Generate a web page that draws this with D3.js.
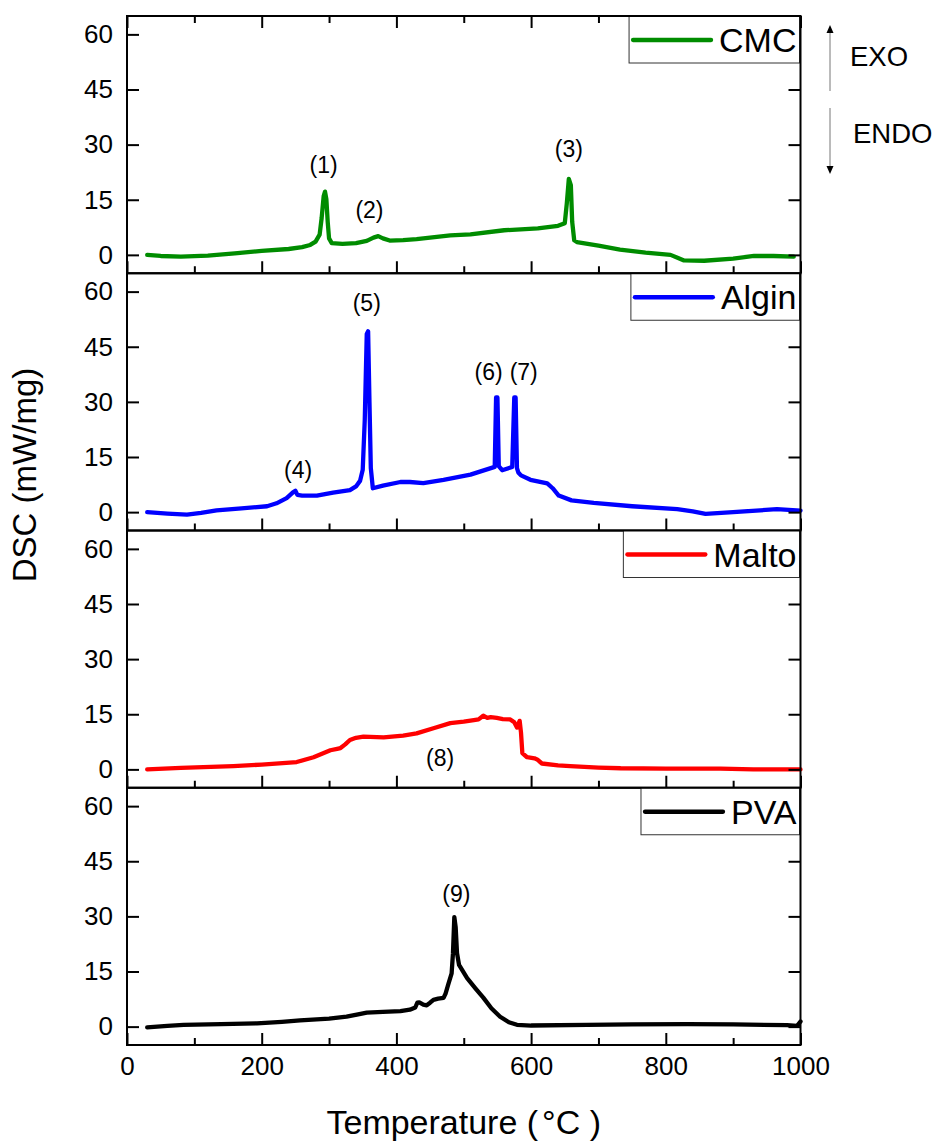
<!DOCTYPE html>
<html>
<head>
<meta charset="utf-8">
<script src="https://cdn.jsdelivr.net/npm/d3@7"></script>
<style>
  html, body { margin: 0; padding: 0; background: #fff; }
  svg { display: block; font-family: "Liberation Sans", Arial, sans-serif; }
</style>
</head>
<body>
<svg id="chart" width="934" height="1142"></svg>
<script>
// DSC curves, temperature (°C) vs heat flow (mW/mg)
const seriesNames = ["CMC", "Algin", "Malto", "PVA"];
const seriesColors = ["#008c00", "#0000ff", "#ff0000", "#000000"];

const cmc = [
  [30,0],[50,-0.3],[80,-0.5],[120,-0.2],[160,0.4],[200,1.1],[240,1.6],[260,2.1],[272,2.7],
  [280,3.6],[286,5.5],[289,10],[292,16],[294,17.2],[296,15.2],[298,9],[300,4.5],[304,3.2],
  [320,3.0],[340,3.2],[356,3.8],[366,4.7],[373,5.1],[380,4.5],[390,3.9],[410,4.0],[430,4.3],
  [460,4.9],[480,5.3],[510,5.6],[560,6.7],[610,7.2],[640,7.9],[650,8.6],[653,14],[656,20.7],
  [659,19],[661,9],[664,4.0],[668,3.5],[700,2.5],[732,1.4],[770,0.6],[807,0],[827,-1.5],
  [857,-1.6],[900,-1.0],[931,-0.3],[960,-0.3],[990,-0.5]
];

const algin = [
  [30,0],[60,-0.4],[89,-0.7],[110,-0.2],[133,0.5],[170,1.0],[208,1.6],[222,2.4],[237,3.8],
  [246,5.3],[250,5.8],[253,4.7],[260,4.5],[282,4.5],[306,5.3],[331,6.0],[340,7],[346,8.5],
  [350,11.5],[353,25],[356,48.5],[358,49.2],[360,30],[362,12],[365,6.5],[380,7.2],[406,8.2],
  [420,8.2],[440,7.9],[470,8.8],[510,10.2],[546,12.3],[548,31.2],[550,31.2],[552,12.5],
  [557,11.4],[572,12.3],[575,31.2],[577,31.2],[579,12],[581,10.8],[585,10.0],[599,8.8],
  [624,7.8],[632,6.5],[641,4.5],[660,3.2],[693,2.5],[750,1.6],[817,0.8],[840,0.2],[859,-0.5],
  [900,0.0],[965,0.8],[1000,0.4]
];

const malto = [
  [30,0],[80,0.4],[158,0.9],[200,1.3],[252,2.0],[277,3.3],[302,5.2],[312,5.6],[317,5.8],
  [324,6.8],[331,8.0],[340,8.6],[351,8.9],[381,8.7],[410,9.2],[430,9.8],[455,11.2],[480,12.6],
  [500,13.0],[515,13.4],[522,13.6],[529,14.6],[535,14.0],[540,14.2],[549,14.0],[558,13.7],
  [569,13.6],[575,12.8],[579,11.4],[583,13.2],[585,10],[587,4.4],[594,3.3],[605,3.0],
  [609,2.7],[616,1.6],[640,1.1],[658,0.9],[700,0.5],[733,0.3],[800,0.2],[881,0.2],[930,0],
  [1000,0]
];

const pva = [
  [30,-0.2],[60,0.2],[84,0.5],[140,0.7],[193,0.9],[230,1.3],[257,1.7],[300,2.2],[326,2.7],
  [345,3.4],[356,3.8],[380,4.0],[406,4.2],[420,4.6],[428,5.2],[431,6.5],[434,6.6],[440,6.0],
  [445,5.8],[450,6.5],[455,7.3],[462,7.6],[470,7.8],[473,9],[477,11.5],[482,14.5],[484,20],
  [486,29.8],[488,27],[490,20],[493,16.8],[505,13.2],[517,10.5],[529,7.9],[541,5.0],
  [554,2.7],[567,1.2],[579,0.5],[600,0.3],[683,0.5],[750,0.6],[832,0.7],[900,0.6],[980,0.4],
  [995,0.2],[1000,1.4]
];

const seriesData = [cmc, algin, malto, pva];

// Peak labels: [panel index, temperature, DSC value at text baseline, text]
const peakLabels = [
  [0, 292, 22.3, "(1)"],
  [0, 360, 10.0, "(2)"],
  [0, 656, 26.6, "(3)"],
  [1, 254, 9.4, "(4)"],
  [1, 356, 54.7, "(5)"],
  [1, 537, 36.0, "(6)"],
  [1, 589, 36.0, "(7)"],
  [2, 465, 1.0, "(8)"],
  [3, 489, 34.0, "(9)"]
];

const yTicks = [0, 15, 30, 45, 60];
const xMajorTicks = [0, 200, 400, 600, 800, 1000];
const xMinorTicks = [100, 300, 500, 700, 900];

const xTitleMain = "Temperature (";
const xTitleUnit = "°C )";
const yTitle = "DSC (mW/mg)";

// ---- layout ----
const plotLeft = 127, plotRight = 800.5;
const plotTop = 16, panelH = 257.25;
const svg = d3.select("#chart");

const x = d3.scaleLinear().domain([0, 1000]).range([plotLeft, plotRight]);

const line = (y) => d3.line()
  .x(d => x(d[0]))
  .y(d => y(d[1]))
  .curve(d3.curveLinear);

const styleAxis = sel => {
  sel.select(".domain").remove();
  sel.selectAll(".tick line").attr("stroke", "#000").attr("stroke-width", 2);
  sel.selectAll(".tick text")
    .attr("fill", "#000")
    .style("font-size", "26px")
    .style("font-family", "'Liberation Sans', Arial, sans-serif");
};

seriesData.forEach((data, i) => {
  const top = plotTop + i * panelH;
  const bottom = top + panelH;
  const y = d3.scaleLinear().domain([-5, 65]).range([bottom, top]);
  const g = svg.append("g").attr("class", "panel");

  // curve
  g.append("path")
    .datum(data)
    .attr("d", line(y))
    .attr("fill", "none")
    .attr("stroke", seriesColors[i])
    .attr("stroke-width", 4.3)
    .attr("stroke-linejoin", "round")
    .attr("stroke-linecap", "round");

  // axes with inward ticks
  g.append("g")
    .attr("transform", `translate(${plotLeft},0)`)
    .call(d3.axisLeft(y).tickValues(yTicks).tickSize(-12).tickPadding(14).tickFormat(d3.format("d")))
    .call(styleAxis);

  g.append("g")
    .attr("transform", `translate(${plotRight},0)`)
    .call(d3.axisRight(y).tickValues(yTicks).tickSize(-12).tickFormat(""))
    .call(styleAxis);

  const bottomAxis = d3.axisBottom(x).tickValues(xMajorTicks).tickSize(-12).tickPadding(12)
    .tickFormat(i < seriesData.length - 1 ? "" : d3.format("d"));
  g.append("g")
    .attr("transform", `translate(0,${bottom})`)
    .call(bottomAxis)
    .call(styleAxis);
  g.append("g")
    .attr("transform", `translate(0,${bottom})`)
    .call(d3.axisBottom(x).tickValues(xMinorTicks).tickSize(-7).tickFormat(""))
    .call(styleAxis);

  if (i === 0) {
    g.append("g")
      .attr("transform", `translate(0,${top})`)
      .call(d3.axisTop(x).tickValues(xMajorTicks).tickSize(-12).tickFormat(""))
      .call(styleAxis);
    g.append("g")
      .attr("transform", `translate(0,${top})`)
      .call(d3.axisTop(x).tickValues(xMinorTicks).tickSize(-7).tickFormat(""))
      .call(styleAxis);
  }

  // legend box, right-aligned at the top of the panel
  const lg = g.append("g");
  const box = lg.append("rect");
  const label = lg.append("text")
    .text(seriesNames[i])
    .attr("font-size", 34)
    .attr("fill", "#000");
  const tw = label.node().getComputedTextLength();
  const boxW = 4 + 78 + 8 + tw + 3;
  const bx = plotRight - 1 - boxW;
  box.attr("x", bx).attr("y", top).attr("width", boxW).attr("height", 47)
    .attr("fill", "#fff").attr("stroke", "#333").attr("stroke-width", 1);
  lg.append("line")
    .attr("x1", bx + 4).attr("x2", bx + 82)
    .attr("y1", top + 24).attr("y2", top + 24)
    .attr("stroke", seriesColors[i]).attr("stroke-width", 4.3)
    .attr("stroke-linecap", "round");
  label.attr("x", bx + 90).attr("y", top + 36);

  // peak numbers
  peakLabels.filter(p => p[0] === i).forEach(p => {
    g.append("text")
      .attr("x", x(p[1]))
      .attr("y", y(p[2]))
      .attr("text-anchor", "middle")
      .attr("font-size", 23)
      .attr("fill", "#000")
      .text(p[3]);
  });

  // frame
  g.append("rect")
    .attr("x", plotLeft).attr("y", top)
    .attr("width", plotRight - plotLeft).attr("height", panelH)
    .attr("fill", "none").attr("stroke", "#000").attr("stroke-width", 2);
});

// axis titles
const xt = svg.append("text")
  .attr("x", (plotLeft + plotRight) / 2)
  .attr("y", 1134)
  .attr("text-anchor", "middle")
  .attr("font-size", 34)
  .attr("fill", "#000");
xt.append("tspan").text(xTitleMain);
xt.append("tspan").attr("dx", 4).text(xTitleUnit);

svg.append("text")
  .attr("transform", "translate(36,475) rotate(-90)")
  .attr("text-anchor", "middle")
  .attr("font-size", 33)
  .attr("fill", "#000")
  .text(yTitle);

// EXO / ENDO direction arrows
const arrowX = 830;
const ann = svg.append("g");
ann.append("line").attr("x1", arrowX).attr("x2", arrowX).attr("y1", 32).attr("y2", 91)
  .attr("stroke", "#777").attr("stroke-width", 1);
ann.append("path").attr("d", `M${arrowX},25 L${arrowX - 3.5},33 L${arrowX + 3.5},33 Z`).attr("fill", "#000");
ann.append("line").attr("x1", arrowX).attr("x2", arrowX).attr("y1", 108).attr("y2", 166)
  .attr("stroke", "#777").attr("stroke-width", 1);
ann.append("path").attr("d", `M${arrowX},174 L${arrowX - 3.5},166 L${arrowX + 3.5},166 Z`).attr("fill", "#000");
ann.append("text").attr("x", 850).attr("y", 66).attr("font-size", 27.5).attr("fill", "#000").text("EXO");
ann.append("text").attr("x", 853).attr("y", 143).attr("font-size", 27.5).attr("fill", "#000").text("ENDO");
</script>
</body>
</html>
